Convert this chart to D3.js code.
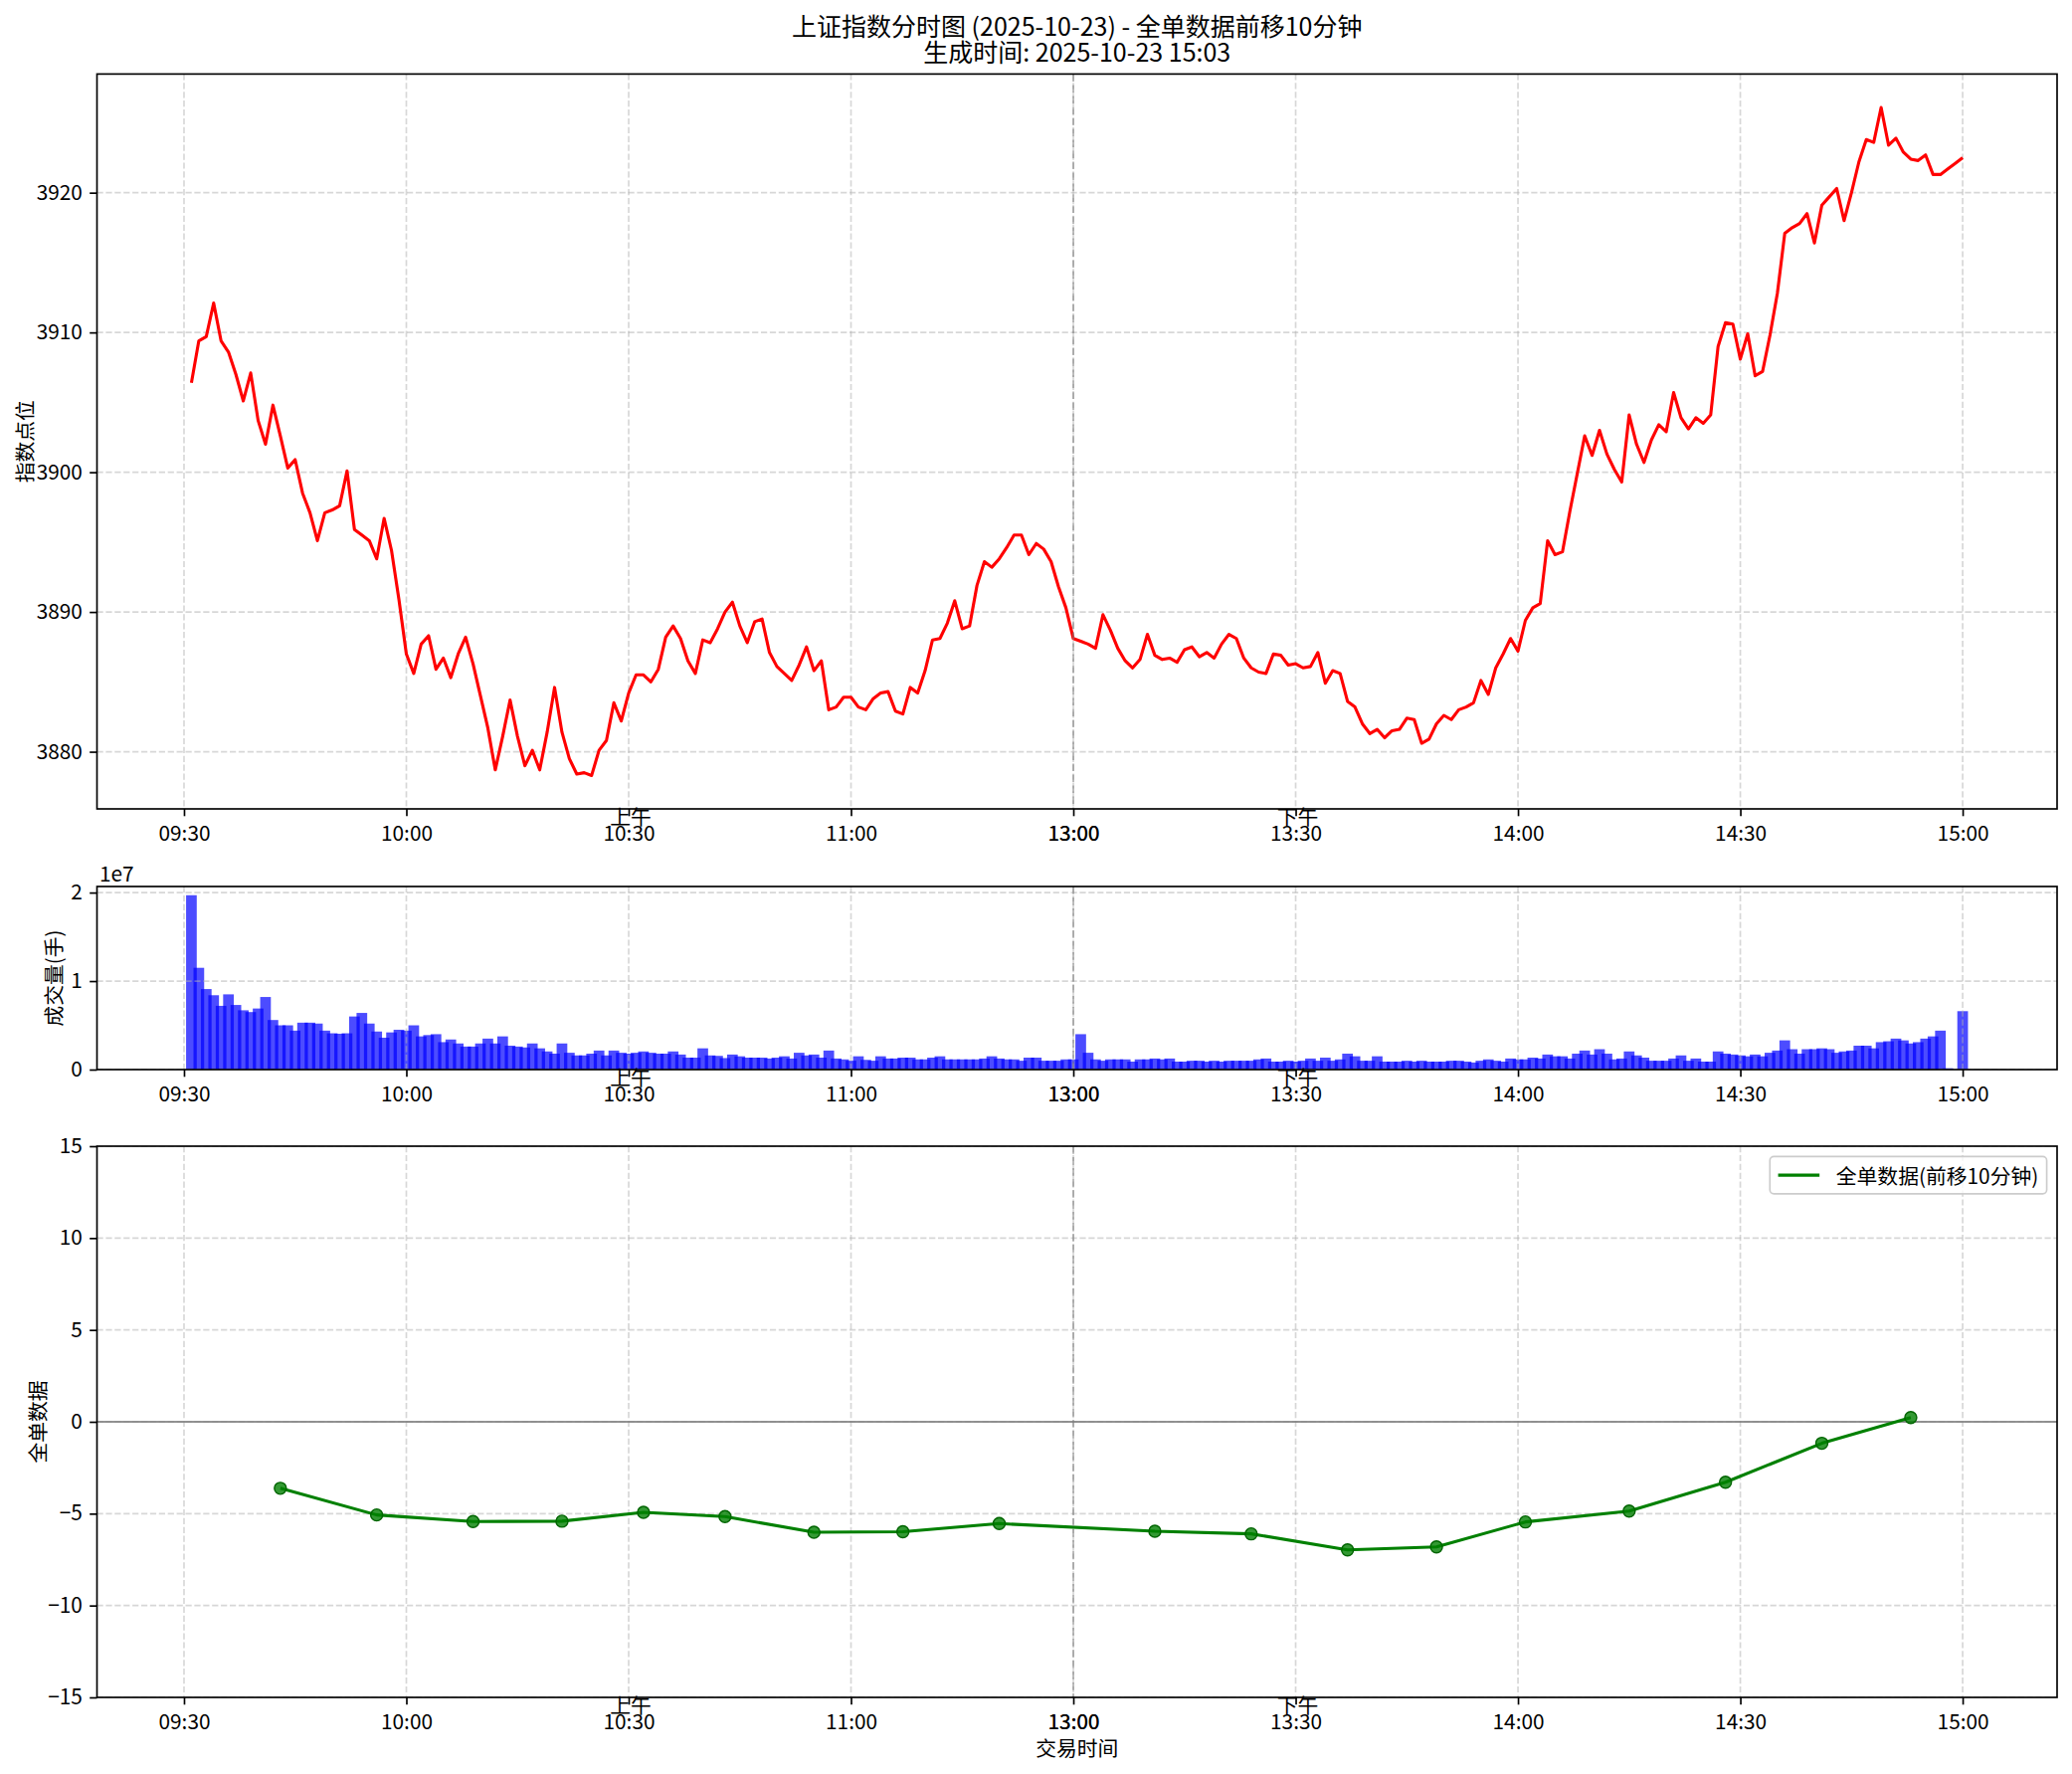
<!DOCTYPE html>
<html><head><meta charset="utf-8">
<script src="https://cdn.jsdelivr.net/npm/d3@7/dist/d3.min.js"></script>
<style>
body{margin:0;background:#fff}
text{font-family:"Noto Sans CJK SC","Noto Sans",sans-serif;fill:#000}
</style></head>
<body><svg id="c" width="2083" height="1783"></svg>
<script>
// ---------------- data ----------------
const titleLines = ["上证指数分时图 (2025-10-23) - 全单数据前移10分钟", "生成时间: 2025-10-23 15:03"];
const sessionRanges = [["09:31","11:30"],["13:01","15:00"]];
const priceValues = [
3906.4,3909.4,3909.7,3912.1,3909.4,3908.6,3907.0,3905.1,3907.1,3903.7,
3902.0,3904.8,3902.6,3900.3,3900.9,3898.5,3897.1,3895.1,3897.1,3897.3,
3897.6,3900.1,3895.9,3895.5,3895.1,3893.8,3896.7,3894.4,3890.9,3887.0,
3885.6,3887.7,3888.3,3885.9,3886.7,3885.3,3887.0,3888.2,3886.3,3884.0,
3881.7,3878.7,3881.1,3883.7,3881.1,3879.0,3880.1,3878.7,3881.4,3884.6,
3881.4,3879.5,3878.4,3878.5,3878.3,3880.1,3880.8,3883.5,3882.2,3884.2,
3885.5,3885.5,3885.0,3885.9,3888.2,3889.0,3888.1,3886.5,3885.6,3888.0,
3887.8,3888.8,3890.0,3890.7,3889.0,3887.8,3889.3,3889.5,3887.1,3886.1,
3885.6,3885.1,3886.2,3887.5,3885.8,3886.5,3883.0,3883.2,3883.9,3883.9,
3883.2,3883.0,3883.8,3884.2,3884.3,3882.9,3882.7,3884.6,3884.2,3885.8,
3888.0,3888.1,3889.2,3890.8,3888.8,3889.0,3891.9,3893.6,3893.2,3893.8,
3894.6,3895.5,3895.5,3894.1,3894.9,3894.5,3893.6,3891.8,3890.3,3888.1,
3887.9,3887.7,3887.4,3889.8,3888.7,3887.4,3886.5,3886.0,3886.6,3888.4,
3886.9,3886.6,3886.7,3886.4,3887.3,3887.5,3886.8,3887.1,3886.7,3887.7,
3888.4,3888.1,3886.7,3886.0,3885.7,3885.6,3887.0,3886.9,3886.2,3886.3,
3886.0,3886.1,3887.1,3884.9,3885.8,3885.6,3883.6,3883.2,3882.0,3881.3,
3881.6,3881.0,3881.5,3881.6,3882.4,3882.3,3880.6,3880.9,3882.0,3882.6,
3882.3,3883.0,3883.2,3883.5,3885.1,3884.1,3886.0,3887.0,3888.1,3887.2,
3889.4,3890.3,3890.6,3895.1,3894.1,3894.3,3897.2,3899.9,3902.6,3901.2,
3903.0,3901.3,3900.2,3899.3,3904.1,3902.0,3900.7,3902.3,3903.4,3902.9,
3905.7,3903.9,3903.1,3903.9,3903.5,3904.1,3909.0,3910.7,3910.6,3908.1,
3909.9,3906.9,3907.2,3909.8,3912.8,3917.1,3917.5,3917.8,3918.5,3916.4,
3919.1,3919.7,3920.3,3918.0,3920.0,3922.2,3923.8,3923.6,3926.1,3923.4,
3923.9,3922.9,3922.4,3922.3,3922.7,3921.3,3921.3,3921.7,3922.1,3922.5];
const volumeValues = [
19.7e6,11.5e6,9.1e6,8.4e6,7.2e6,8.5e6,7.3e6,6.7e6,6.5e6,6.9e6,
8.2e6,5.6e6,5.0e6,5.0e6,4.4e6,5.3e6,5.3e6,5.2e6,4.4e6,4.1e6,
4.05e6,4.1e6,6.0e6,6.4e6,5.2e6,4.3e6,3.6e6,4.2e6,4.5e6,4.4e6,
5.0e6,3.75e6,3.9e6,4.0e6,3.1e6,3.4e6,2.95e6,2.6e6,2.6e6,2.95e6,
3.5e6,2.95e6,3.75e6,2.7e6,2.6e6,2.5e6,2.95e6,2.4e6,2.05e6,1.8e6,
2.95e6,1.9e6,1.6e6,1.6e6,1.8e6,2.15e6,1.6e6,2.15e6,1.9e6,1.8e6,
1.9e6,2.05e6,1.9e6,1.8e6,1.8e6,2.05e6,1.7e6,1.35e6,1.35e6,2.4e6,
1.6e6,1.55e6,1.3e6,1.7e6,1.5e6,1.35e6,1.35e6,1.35e6,1.25e6,1.35e6,
1.5e6,1.25e6,1.9e6,1.6e6,1.7e6,1.35e6,2.15e6,1.25e6,1.15e6,1.0e6,
1.5e6,1.1e6,1.0e6,1.5e6,1.25e6,1.25e6,1.35e6,1.35e6,1.15e6,1.15e6,
1.35e6,1.5e6,1.15e6,1.15e6,1.15e6,1.15e6,1.15e6,1.25e6,1.5e6,1.25e6,
1.15e6,1.15e6,1.0e6,1.35e6,1.35e6,1.0e6,1.0e6,1.0e6,1.15e6,1.15e6,
4.0e6,1.9e6,1.15e6,1.0e6,1.15e6,1.15e6,1.15e6,0.9e6,1.15e6,1.15e6,
1.25e6,1.15e6,1.25e6,0.9e6,0.9e6,1.0e6,1.0e6,0.9e6,1.0e6,0.9e6,
1.0e6,1.0e6,1.0e6,1.0e6,1.15e6,1.25e6,0.9e6,0.9e6,1.0e6,0.9e6,
1.0e6,1.25e6,1.0e6,1.35e6,1.0e6,1.15e6,1.8e6,1.5e6,1.0e6,1.0e6,
1.5e6,0.9e6,0.9e6,0.9e6,1.0e6,0.9e6,1.0e6,0.9e6,0.9e6,0.9e6,
1.0e6,1.0e6,0.9e6,0.8e6,1.0e6,1.15e6,1.0e6,0.9e6,1.25e6,1.15e6,
1.15e6,1.35e6,1.25e6,1.7e6,1.5e6,1.5e6,1.25e6,1.8e6,2.15e6,1.7e6,
2.3e6,1.8e6,1.15e6,1.25e6,2.05e6,1.6e6,1.35e6,1.0e6,1.0e6,1.0e6,
1.25e6,1.6e6,1.0e6,1.25e6,0.9e6,0.9e6,2.05e6,1.8e6,1.7e6,1.6e6,
1.5e6,1.7e6,1.5e6,1.9e6,2.15e6,3.3e6,2.3e6,1.8e6,2.3e6,2.3e6,
2.4e6,2.3e6,1.9e6,2.05e6,2.15e6,2.7e6,2.7e6,2.4e6,3.1e6,3.2e6,
3.5e6,3.3e6,2.95e6,3.1e6,3.5e6,3.75e6,4.4e6,0.15e6,0,6.6e6];
const flowTimes = ["09:43","09:56","10:09","10:21","10:32","10:43","10:55","11:07","11:20",
                   "13:11","13:24","13:37","13:49","14:01","14:15","14:28","14:41","14:53"];
const flowValues = [-3.62,-5.07,-5.43,-5.41,-4.93,-5.16,-6.01,-5.98,-5.54,
                    -5.96,-6.10,-6.97,-6.81,-5.45,-4.86,-3.29,-1.17,0.23];
const xTickTimes = ["09:30","10:00","10:30","11:00","13:00","13:30","14:00","14:30","15:00"];
const priceTicks = [3880,3890,3900,3910,3920];
const volumeTicks = [0,1e7,2e7];
const flowTicks = [-15,-10,-5,0,5,10,15];
const sessionLabels = [["上午","10:30"],["下午","13:30"]];
const legendLabel = "全单数据(前移10分钟)";
const yLabels = {price:"指数点位", volume:"成交量(手)", flow:"全单数据"};
const xLabel = "交易时间";

// ---------------- helpers ----------------
const clock = t => { const [h,m] = t.split(":").map(Number); return h*60+m; };
const fmtClock = m => String(Math.floor(m/60)).padStart(2,"0")+":"+String(m%60).padStart(2,"0");
// compressed trading-time index (lunch break removed)
const toIdx = t => { const m = clock(t); let c = m - 570; if (m > 690) c -= 90; return c; };
const minuteTimes = [];
sessionRanges.forEach(([a,b]) => { for (let m = clock(a); m <= clock(b); m++) minuteTimes.push(fmtClock(m)); });

// ---------------- layout ----------------
const W = 2083, H = 1783;
const L = 97.5, R = 2068;
const P = { price:[74.4,813], volume:[891,1075], flow:[1152,1706] };
const FS = 20.8, GRID = "#b0b0b0";
const svg = d3.select("#c");
svg.append("rect").attr("width",W).attr("height",H).attr("fill","#fff");

const idx = minuteTimes.map(toIdx);
const barHalf = 0.72;
const lo = d3.min(idx) - barHalf, hi = d3.max(idx) + barHalf, pad = (hi-lo)*0.05;
const x = d3.scaleLinear().domain([lo-pad, hi+pad]).range([L, R]);
const xTickVals = xTickTimes.map(toIdx);

const pe = d3.extent(priceValues), pr = pe[1]-pe[0];
const yPrice = d3.scaleLinear().domain([pe[0]-0.05*pr, pe[1]+0.05*pr]).range([P.price[1], P.price[0]]);
const yVol = d3.scaleLinear().domain([0, d3.max(volumeValues)*1.05]).range([P.volume[1], P.volume[0]]);
const yFlow = d3.scaleLinear().domain([-15,15]).range([P.flow[1], P.flow[0]]);

const defs = svg.append("defs");
function makePanel(name, y, ticks) {
  const [t,b] = P[name];
  defs.append("clipPath").attr("id","clip-"+name).append("rect")
    .attr("x",L).attr("y",t).attr("width",R-L).attr("height",b-t);
  const g = svg.append("g");
  const below = g.append("g").attr("clip-path","url(#clip-"+name+")");
  const grid = g.append("g").attr("clip-path","url(#clip-"+name+")");
  grid.selectAll("line.gx").data(xTickVals).join("line").attr("class","gx")
    .attr("x1",d=>x(d)).attr("x2",d=>x(d)).attr("y1",t).attr("y2",b);
  grid.selectAll("line.gy").data(ticks).join("line").attr("class","gy")
    .attr("x1",L).attr("x2",R).attr("y1",d=>y(d)).attr("y2",d=>y(d));
  grid.selectAll("line").attr("stroke",GRID).attr("stroke-opacity",0.5)
    .attr("stroke-width",1.67).attr("stroke-dasharray","6.2,2.7");
  const above = g.append("g").attr("clip-path","url(#clip-"+name+")");
  return {g, below, above, t, b};
}
function finishPanel(p, name, y, ticks, fmt) {
  const {g,t,b} = p;
  // lunch break line
  p.above.append("line").attr("x1",x(toIdx("13:00"))).attr("x2",x(toIdx("13:00")))
    .attr("y1",t).attr("y2",b).attr("stroke","#808080").attr("stroke-opacity",0.8)
    .attr("stroke-width",1.3).attr("stroke-dasharray","7.7,3.3");
  // x axis
  const ax = g.append("g").attr("transform",`translate(0,${b})`)
    .call(d3.axisBottom(x).tickValues(xTickVals).tickFormat((d,i)=>xTickTimes[i]).tickSize(7.3).tickSizeOuter(0));
  // y axis
  const ay = g.append("g").attr("transform",`translate(${L},0)`)
    .call(d3.axisLeft(y).tickValues(ticks).tickFormat(fmt).tickSize(7.3).tickPadding(7.3).tickSizeOuter(0));
  [ax,ay].forEach(a=>{
    a.select(".domain").remove();
    a.selectAll(".tick line").attr("stroke","#000").attr("stroke-width",1.67);
    a.selectAll(".tick text").attr("font-size",FS).attr("font-family",null).attr("fill","#000");
  });
  ax.selectAll(".tick text").attr("y",32).attr("dy",null);
  // 13:00 label drawn twice (11:30 and 13:00 coincide)
  const x13 = x(toIdx("13:00"));
  g.append("text").attr("x",x13+0.4).attr("y",b+32).attr("text-anchor","middle")
    .attr("font-size",FS).text("13:00");
  // session labels
  sessionLabels.forEach(([lab,tm])=>{
    g.append("text").attr("x",x(toIdx(tm))+2).attr("y",b+16).attr("text-anchor","middle")
      .attr("font-size",FS).text(lab);
  });
  // spines
  g.append("rect").attr("x",L).attr("y",t).attr("width",R-L).attr("height",b-t)
    .attr("fill","none").attr("stroke","#000").attr("stroke-width",1.67);
}

// ---------------- title ----------------
const cx = (L+R)/2;
svg.append("text").attr("x",cx).attr("y",35.5).attr("text-anchor","middle").attr("font-size",25).text(titleLines[0]);
svg.append("text").attr("x",cx).attr("y",61.5).attr("text-anchor","middle").attr("font-size",25).text(titleLines[1]);

// ---------------- price panel ----------------
const pp = makePanel("price", yPrice, priceTicks);
const priceData = minuteTimes.map((t,i)=>({x:toIdx(t), v:priceValues[i]}));
pp.above.append("path").datum(priceData)
  .attr("d", d3.line().x(d=>x(d.x)).y(d=>yPrice(d.v)))
  .attr("fill","none").attr("stroke","red").attr("stroke-width",3.1).attr("stroke-linejoin","round");
finishPanel(pp, "price", yPrice, priceTicks, d=>d3.format("d")(d));

// ---------------- volume panel ----------------
const vp = makePanel("volume", yVol, volumeTicks);
const volData = minuteTimes.map((t,i)=>({x:toIdx(t), v:volumeValues[i]}));
vp.below.selectAll("rect").data(volData).join("rect")
  .attr("x",d=>x(d.x-barHalf)).attr("width",d=>x(d.x+barHalf)-x(d.x-barHalf))
  .attr("y",d=>yVol(d.v)).attr("height",d=>yVol(0)-yVol(d.v))
  .attr("fill","blue").attr("fill-opacity",0.7);
finishPanel(vp, "volume", yVol, volumeTicks, d=>d3.format("d")(d/1e7));
svg.append("text").attr("x",100).attr("y",885.5).attr("font-size",FS).text("1e7");

// ---------------- flow panel ----------------
const fp = makePanel("flow", yFlow, flowTicks);
fp.above.append("line").attr("x1",L).attr("x2",R).attr("y1",yFlow(0)).attr("y2",yFlow(0))
  .attr("stroke","#808080").attr("stroke-opacity",0.85).attr("stroke-width",1.8);
const flowData = flowTimes.map((t,i)=>({x:toIdx(t), v:flowValues[i]}));
fp.above.append("path").datum(flowData)
  .attr("d", d3.line().x(d=>x(d.x)).y(d=>yFlow(d.v)))
  .attr("fill","none").attr("stroke","green").attr("stroke-width",3.1).attr("stroke-linejoin","round");
fp.above.selectAll("circle").data(flowData).join("circle")
  .attr("cx",d=>x(d.x)).attr("cy",d=>yFlow(d.v)).attr("r",6)
  .attr("fill","green").attr("fill-opacity",0.8).attr("stroke","#006400").attr("stroke-width",1.4);
finishPanel(fp, "flow", yFlow, flowTicks, d=>d3.format("d")(d));

// ---------------- axis labels ----------------
const ylab = (txt, cxp, cyp) => svg.append("text")
  .attr("transform",`translate(${cxp},${cyp}) rotate(-90)`).attr("text-anchor","middle")
  .attr("dominant-baseline","central").attr("font-size",FS).text(txt);
ylab(yLabels.price, 24, (P.price[0]+P.price[1])/2);
ylab(yLabels.volume, 53, (P.volume[0]+P.volume[1])/2);
ylab(yLabels.flow, 37, (P.flow[0]+P.flow[1])/2);
svg.append("text").attr("x",cx).attr("y",1765).attr("text-anchor","middle").attr("font-size",FS).text(xLabel);

// ---------------- legend ----------------
const lg = svg.append("g");
const lbox = lg.append("rect");
const ltxt = lg.append("text").attr("font-size",FS).attr("dominant-baseline","central").text(legendLabel);
const tw = ltxt.node().getComputedTextLength();
const bp = 8.3, hl = 41.6, htp = 16.6;
const bw = bp + hl + htp + tw + bp, bh = 37.4;
const bx = R - 10.4 - bw, by = P.flow[0] + 10.4;
lbox.attr("x",bx).attr("y",by).attr("width",bw).attr("height",bh).attr("rx",4)
  .attr("fill","#fff").attr("fill-opacity",0.8).attr("stroke","#cccccc").attr("stroke-width",1.67);
lg.append("line").attr("x1",bx+bp).attr("x2",bx+bp+hl).attr("y1",by+bh/2).attr("y2",by+bh/2)
  .attr("stroke","green").attr("stroke-width",3.1);
ltxt.attr("x",bx+bp+hl+htp).attr("y",by+bh/2);
</script></body></html>
